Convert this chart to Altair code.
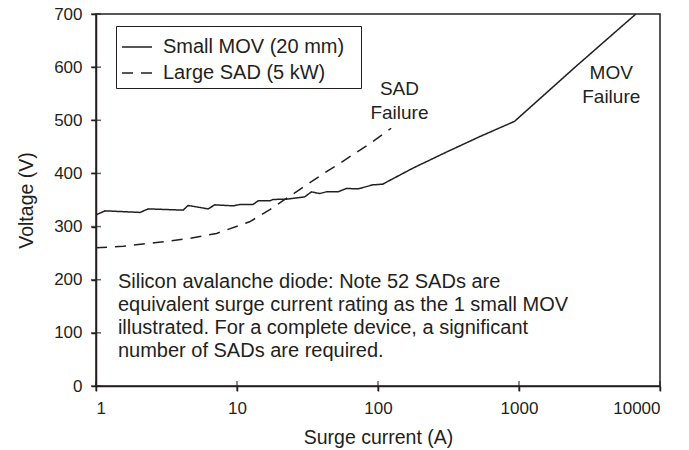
import altair as alt
import pandas as pd

INK = "#231f20"
FONT = "Liberation Sans"

series_names = ["Small MOV (20 mm)", "Large SAD (5 kW)"]

mov_current = [1.0, 1.16, 2.05, 2.35, 4.15, 4.5, 6.24, 6.96, 9.38, 10.5, 13.0, 14.1,
               17.1, 18.0, 22.4, 30.2, 33.7, 38.6, 43.0, 52.0, 59.6, 72.1, 92.1, 108,
               177, 305, 524, 930, 2500, 6745]
mov_voltage = [322, 329.6, 326.6, 333.3, 330.9, 339.7, 333.3, 340.9, 339, 341.6, 341.6, 348.4,
               348.4, 351, 351.6, 355.9, 365.3, 362.1, 365.3, 365.3, 371.7, 371, 378.5, 379.8,
               410, 440, 469, 498, 600, 700]

sad_current = [1.0, 1.56, 2.69, 4.63, 7.16, 10.5, 12.3, 17.1, 22.4, 30.2, 40.7, 55, 87.5, 124]
sad_voltage = [260, 263, 270, 277.6, 287, 302.6, 309, 332, 353, 376, 399, 421, 456, 485]

x_ticks = [1, 10, 100, 1000, 10000]
y_ticks = [0, 100, 200, 300, 400, 500, 600, 700]

failure_current = [142, 4510]
failure_voltage = [558.8, 588.9]
failure_text = ["SAD\nFailure", "MOV\nFailure"]

note_current = [1.43]
note_voltage = [195.3]
note_text = ["Silicon avalanche diode: Note 52 SADs are\n"
             "equivalent surge current rating as the 1 small MOV\n"
             "illustrated. For a complete device, a significant\n"
             "number of SADs are required."]

df = pd.concat([
    pd.DataFrame({"current": mov_current, "voltage": mov_voltage, "series": series_names[0]}),
    pd.DataFrame({"current": sad_current, "voltage": sad_voltage, "series": series_names[1]}),
])

xscale = alt.Scale(type="log", domain=[1, 10000])
yscale = alt.Scale(domain=[0, 700])

lines = alt.Chart(df).mark_line(strokeWidth=1.5, color=INK, clip=True).encode(
    x=alt.X("current:Q", scale=xscale,
            axis=alt.Axis(values=x_ticks, format="d", title="Surge current (A)", grid=False,
                          tickSize=5, labelPadding=9, titlePadding=12)),
    y=alt.Y("voltage:Q", scale=yscale,
            axis=alt.Axis(values=y_ticks, title="Voltage (V)", grid=False,
                          tickSize=5, labelPadding=9, titlePadding=17)),
    strokeDash=alt.StrokeDash(
        "series:N",
        scale=alt.Scale(domain=series_names, range=[[1, 0], [11, 8]]),
        legend=alt.Legend(title=" ", titleOrient="right", titlePadding=12,
                          orient="none", legendX=20, legendY=12,
                          strokeColor=INK, padding=5, symbolType="stroke",
                          symbolSize=900, symbolStrokeWidth=1.5, symbolStrokeColor=INK,
                          labelFontSize=20, labelFont=FONT, labelColor=INK,
                          labelOffset=10, rowPadding=-5, labelLimit=400),
    ),
)

xt = alt.Chart(pd.DataFrame({"current": x_ticks})).mark_tick(
    orient="vertical", size=10, thickness=1.5, color=INK
).encode(x=alt.X("current:Q"), y=alt.datum(0))

yt = alt.Chart(pd.DataFrame({"voltage": y_ticks})).mark_tick(
    orient="horizontal", size=10, thickness=1.5, color=INK
).encode(y=alt.Y("voltage:Q"), x=alt.datum(1))

fail = alt.Chart(pd.DataFrame({"current": failure_current, "voltage": failure_voltage,
                               "label": failure_text})).mark_text(
    lineBreak="\n", lineHeight=24, fontSize=19, font=FONT, color=INK,
    align="center", baseline="middle"
).encode(x="current:Q", y="voltage:Q", text="label:N")

note = alt.Chart(pd.DataFrame({"current": note_current, "voltage": note_voltage,
                               "label": note_text})).mark_text(
    lineBreak="\n", lineHeight=23, fontSize=20, font=FONT, color=INK,
    align="left", baseline="middle"
).encode(x="current:Q", y="voltage:Q", text="label:N")

chart = alt.layer(lines, xt, yt, fail, note).properties(
    width=564, height=372,
    background="white",
    autosize=alt.AutoSizeParams(type="none"),
    padding={"left": 88, "top": 6, "right": 21, "bottom": 62},
).configure_view(stroke=INK, strokeWidth=1.5).configure_axis(
    domainColor=INK, domainWidth=1.5, tickColor=INK, tickWidth=1.5,
    labelFont=FONT, labelFontSize=17, labelColor=INK,
    titleFont=FONT, titleFontSize=19.5, titleColor=INK, titleFontWeight="normal",
)

chart.save("out.html", embed_options={"renderer": "svg", "actions": False})
